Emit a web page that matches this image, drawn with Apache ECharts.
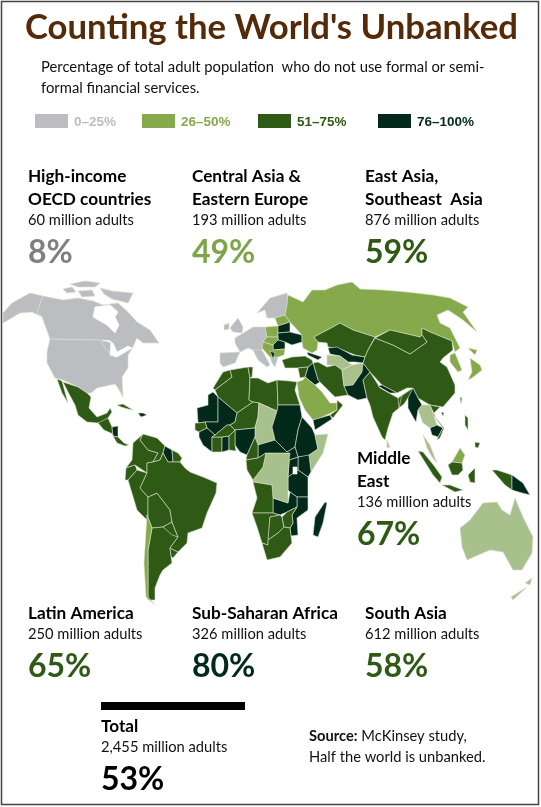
<!DOCTYPE html>
<html>
<head>
<meta charset="UTF-8">
<title>Counting the World's Unbanked</title>
<script src="https://cdn.jsdelivr.net/npm/echarts@6/dist/echarts.min.js"></script>
<style>
html,body{margin:0;padding:0;background:#fff}
#main{width:541px;height:807px}
</style>
</head>
<body>
<div id="main"></div>
<script>
// text values
var titleText = "Counting the World's Unbanked";
var subtitleLines = ['Percentage of total adult population  who do not use formal or semi-', 'formal financial services.'];
var legendLabels = ['0–25%', '26–50%', '51–75%', '76–100%'];
var legendColors = ['#bcbdc0', '#86a94b', '#2f5a15', '#04291c'];
var legendTextColors = ['#bcbdc0', '#86a94b', '#2f5a15', '#04291c'];

var groupNames = [['High-income', 'OECD countries'], ['Central Asia &', 'Eastern Europe'], ['East Asia,', 'Southeast  Asia'], ['Middle', 'East'], ['Latin America'], ['Sub-Saharan Africa'], ['South Asia'], ['Total']];
var groupAdults = ['60', '193', '876', '136', '250', '326', '612', '2,455'];
var groupPercent = [8, 49, 59, 67, 65, 80, 58, 53];
var groupColors = ['#808080', '#7fa54a', '#2f5a15', '#2f5a15', '#2f5a15', '#02291a', '#2f5a15', '#000'];

// map bands: 0 grey, 1 green, 2 pale green, 3 dark, 4 darkest, 5 water
var bandColors = ['#bcbdc0', '#86a94b', '#a8c08c', '#2f5a15', '#02291a', '#ffffff'];

// hand traced outlines, the world map file is not available offline
var outlines = {
  Alaska: [[[3,323],[3,313],[12,303],[30,293],[43,296],[37,312],[42,317],[32,312],[20,313]]],
  Canada: [[[43,296],[63,300],[78,298],[93,301],[103,305],[118,303],[128,312],[137,322],[150,330],[159,343],[143,343],[137,338],[133,347],[125,350],[115,357],[106,349],[100,340],[50,339],[42,317],[37,312]],
    [[63,289],[72,287],[76,292],[67,293]], [[78,291],[92,290],[95,296],[82,297]], [[70,284],[85,281],[100,283],[95,287],[78,287]], [[100,288],[112,291],[133,293],[128,303],[112,299],[104,294]]],
  USA: [[[50,339],[100,340],[106,349],[115,357],[125,350],[133,347],[128,355],[128,368],[122,377],[123,397],[118,388],[115,384],[97,388],[91,393],[87,393],[78,387],[63,380],[55,378],[47,363],[47,352]]],
  Mexico: [[[63,382],[78,387],[87,393],[91,397],[89,408],[97,417],[107,413],[110,408],[112,412],[108,418],[103,422],[98,423],[87,422],[78,415],[75,405],[68,392]], [[57,379],[62,381],[68,403],[62,393]]],
  Guatemala: [[[98,423],[108,418],[112,427],[113,434],[104,430]]],
  Nicaragua: [[[112,427],[118,426],[118,437],[113,436]]],
  Panama: [[[113,436],[118,437],[124,443],[129,445],[125,446],[117,443]]],
  Cuba: [[[117,405],[123,404],[133,410],[128,409],[121,407]]],
  Haiti: [[[138,413],[143,413],[147,415],[141,417]]],
  Colombia: [[[133,443],[143,434],[140,440],[148,450],[158,453],[153,462],[147,463],[147,473],[135,465],[126,468],[132,460]]],
  Venezuela: [[[143,434],[157,438],[165,446],[163,453],[160,460],[153,462],[158,453],[148,450],[140,440]]],
  Guyana: [[[165,446],[172,450],[173,462],[168,462],[163,453]]],
  Guiana: [[[172,450],[178,453],[182,458],[180,462],[173,462]]],
  Ecuador: [[[126,468],[135,465],[137,470],[128,480],[125,480]]],
  Peru: [[[128,480],[137,470],[147,473],[140,488],[148,497],[148,513],[147,520],[137,510]]],
  Bolivia: [[[148,497],[157,493],[170,510],[172,522],[163,527],[152,528],[148,518]]],
  Argentina: [[[152,528],[163,527],[178,537],[170,548],[172,563],[163,570],[160,575],[155,588],[155,600],[148,600],[148,550]]],
  Chile: [[[147,515],[152,528],[148,550],[148,597],[155,605],[146,597],[144,563]]],
  Paraguay: [[[163,527],[172,522],[178,537],[172,535]]],
  Uruguay: [[[170,548],[178,552],[173,558],[171,556]]],
  Brazil: [[[153,462],[160,460],[163,453],[168,462],[173,462],[180,462],[185,468],[190,472],[203,477],[217,483],[216,493],[207,513],[202,528],[188,533],[187,543],[178,552],[170,548],[178,537],[172,522],[170,510],[157,493],[148,497],[140,488],[147,473],[147,463]]],
  Morocco: [[[213,388],[223,372],[230,370],[232,377],[215,390]]],
  Algeria: [[[232,377],[230,370],[248,367],[250,378],[249,400],[253,402],[237,413],[218,397],[215,390]]],
  Tunisia: [[[248,367],[253,367],[252,377],[250,378]]],
  Libya: [[[250,378],[258,378],[268,383],[277,380],[278,405],[277,411],[259,403],[253,402],[249,400]]],
  Egypt: [[[277,380],[290,381],[297,382],[295,390],[300,405],[278,405]]],
  Mauritania: [[[208,395],[213,392],[218,397],[218,422],[205,422],[198,423],[197,408],[208,405]]],
  Mali: [[[218,397],[237,413],[235,422],[230,425],[227,425],[215,435],[207,428],[205,422],[218,422]]],
  Niger: [[[237,413],[253,402],[259,403],[258,417],[255,428],[235,430],[230,425],[235,422]]],
  Chad: [[[259,403],[277,411],[272,427],[275,440],[258,445],[255,437],[255,428],[258,417]]],
  Sudan: [[[278,405],[300,405],[302,417],[298,430],[295,447],[287,452],[275,440],[272,427],[277,411]]],
  Ethiopia: [[[302,417],[312,428],[315,435],[318,449],[308,456],[298,457],[295,447],[298,430]]],
  Somalia: [[[315,435],[328,434],[323,453],[311,472],[309,455],[318,449]]],
  Kenya: [[[298,457],[309,455],[311,472],[308,477],[298,470]]],
  Uganda: [[[289,460],[298,457],[298,470],[288,477]]],
  Tanzania: [[[288,477],[298,470],[308,477],[308,497],[297,497],[290,492],[288,490]]],
  Mozambique: [[[297,497],[308,497],[308,510],[297,518],[298,535],[291,536],[290,528],[293,523],[292,515],[297,507]]],
  Zambia: [[[273,498],[288,503],[290,492],[297,497],[297,507],[287,512],[280,515],[273,513]]],
  Congo: [[[266,453],[290,453],[288,475],[288,503],[273,498],[272,485],[253,482],[253,480],[263,467]]],
  CAR: [[[258,445],[275,440],[287,452],[295,447],[298,457],[289,460],[290,453],[266,453],[258,458]]],
  Nigeria: [[[235,430],[255,428],[255,437],[247,455],[240,452],[235,445]]],
  Cameroon: [[[255,437],[258,445],[258,458],[246,460],[247,455]]],
  Gabon: [[[246,460],[258,458],[266,453],[263,467],[253,480],[247,470]]],
  Angola: [[[253,482],[272,485],[273,498],[273,513],[252,513],[257,498]]],
  Namibia: [[[252,513],[273,513],[280,515],[270,517],[268,545],[262,543],[257,527]]],
  Botswana: [[[270,517],[280,515],[282,517],[284,527],[278,533],[268,540]]],
  Zimbabwe: [[[282,517],[287,512],[297,507],[292,515],[293,523],[290,528],[284,527]]],
  SouthAfrica: [[[268,545],[268,540],[278,533],[284,527],[290,528],[291,536],[292,543],[280,557],[267,560],[262,543]]],
  Senegal: [[[195,423],[198,423],[205,422],[207,428],[199,432],[195,430]]],
  Guinea: [[[199,432],[207,428],[215,435],[212,437],[212,452],[203,445],[199,437]]],
  IvoryCoast: [[[212,437],[222,437],[222,452],[212,452]]],
  Ghana: [[[222,437],[229,436],[229,450],[222,452]]],
  Burkina: [[[215,435],[227,425],[230,425],[235,430],[229,436],[222,437],[212,437]]],
  Benin: [[[229,436],[235,430],[235,445],[236,451],[229,450]]],
  Madagascar: [[[325,502],[327,503],[323,523],[318,537],[313,535],[315,517]]],
  Scandinavia: [[[257,313],[270,298],[287,293],[288,300],[287,305],[285,315],[275,318],[267,318],[265,310]]],
  UK: [[[230,328],[238,318],[243,327],[242,333],[233,332]], [[224,325],[229,323],[229,329],[224,330]]],
  WestEurope: [[[235,338],[240,335],[253,327],[265,327],[267,337],[263,342],[262,348],[262,353],[253,350],[248,348],[240,352],[235,343]]],
  Iberia: [[[220,353],[240,352],[235,363],[223,367],[220,363]]],
  Italy: [[[253,350],[262,350],[270,365],[267,367],[258,360]]],
  Greece: [[[270,357],[278,357],[275,367],[272,363]]],
  Poland: [[[265,327],[278,326],[278,337],[267,337]]],
  Baltics: [[[275,318],[285,315],[290,322],[278,326]]],
  Belarus: [[[278,326],[290,322],[290,332],[278,333]]],
  Ukraine: [[[278,333],[290,332],[302,335],[302,342],[292,345],[285,342],[278,340]]],
  Hungary: [[[267,337],[278,337],[278,340],[273,345],[263,342]]],
  Romania: [[[273,345],[278,340],[285,342],[285,349],[273,350]]],
  Balkans: [[[262,348],[263,342],[273,345],[273,350],[285,349],[284,355],[278,357],[270,357]]],
  Serbia: [[[270,351],[275,353],[273,359]]],
  Turkey: [[[282,360],[292,357],[305,356],[312,360],[313,363],[308,367],[298,368],[285,368]]],
  Russia: [[[288,295],[303,302],[312,290],[325,290],[337,285],[352,282],[360,289],[383,290],[407,292],[433,295],[450,298],[468,307],[463,312],[477,332],[463,320],[448,310],[437,315],[440,323],[450,328],[460,348],[455,352],[452,341],[430,332],[422,328],[422,335],[420,337],[390,330],[375,337],[353,330],[340,323],[333,327],[314,337],[318,342],[317,350],[312,353],[303,348],[302,342],[302,335],[290,322],[285,315],[287,305]]],
  Kazakhstan: [[[314,337],[333,327],[340,323],[353,330],[375,337],[368,350],[365,357],[355,355],[340,349],[328,347],[327,343],[318,342]]],
  Uzbekistan: [[[328,348],[337,347],[352,355],[365,357],[363,363],[355,362],[348,362],[340,356],[330,354]]],
  Turkmenistan: [[[327,355],[340,356],[348,362],[352,365],[342,370],[335,365],[327,365]]],
  Caucasus: [[[307,352],[322,357],[318,360],[308,355]]],
  Iran: [[[313,363],[318,362],[327,367],[335,365],[342,370],[344,386],[348,395],[335,397],[325,387],[318,380]]],
  Afghanistan: [[[342,370],[352,365],[363,363],[362,372],[353,385],[344,386]]],
  Pakistan: [[[363,363],[370,372],[363,380],[367,398],[358,400],[348,395],[344,386],[353,385],[362,372]]],
  Iraq: [[[308,367],[313,363],[318,380],[320,382],[315,385],[305,377]]],
  Syria: [[[298,368],[308,367],[305,377],[300,378]]],
  Saudi: [[[297,382],[303,380],[305,377],[315,385],[322,392],[330,403],[337,403],[337,410],[320,418],[313,420],[305,410],[299,397]]],
  Yemen: [[[313,420],[330,415],[332,419],[315,430]]],
  Oman: [[[337,400],[343,405],[333,418],[330,415],[337,410]]],
  India: [[[363,380],[370,372],[377,383],[380,388],[398,398],[402,395],[399,408],[393,413],[388,428],[385,440],[382,437],[373,417],[370,405],[367,398]], [[398,398],[413,388],[413,392],[408,398],[404,404],[399,408]]],
  China: [[[375,338],[393,345],[410,354],[427,342],[422,335],[422,328],[430,332],[452,341],[453,350],[443,358],[440,362],[447,367],[455,385],[455,393],[443,407],[430,405],[418,398],[413,388],[407,388],[397,393],[382,385],[370,372],[363,363],[365,357],[368,350]]],
  Mongolia: [[[375,338],[390,330],[420,337],[422,335],[427,342],[410,354],[393,345]]],
  Nepal: [[[382,385],[397,393],[390,393],[378,386]]],
  Myanmar: [[[408,398],[413,388],[418,398],[422,405],[418,410],[416,422],[413,417],[408,408]]],
  SriLanka: [[[387,440],[390,447],[387,448]]],
  Korea: [[[450,355],[455,353],[462,370],[458,372],[450,362]]],
  Japan: [[[468,348],[477,350],[475,355]], [[470,358],[480,365],[482,370],[472,378],[468,380],[472,372]]],
  Thailand: [[[418,410],[422,405],[430,405],[433,413],[437,425],[430,428],[423,423]], [[423,435],[430,445],[437,463],[432,457],[427,448]]],
  Cambodia: [[[430,428],[437,425],[443,428],[438,437],[432,435]]],
  Vietnam: [[[430,405],[440,407],[433,414],[444,428],[440,438],[437,440],[438,437],[443,428],[437,420]]],
  Hainan: [[[441,412],[444,413],[443,416]]],
  Taiwan: [[[460,397],[462,398],[461,404]]],
  Philippines: [[[465,415],[468,418],[468,430],[465,425]], [[475,442],[480,443],[478,448],[475,447]]],
  Malaysia: [[[452,462],[460,448],[465,455],[462,463]]],
  Indonesia: [[[448,465],[452,462],[462,463],[463,470],[458,475],[452,475]], [[418,451],[423,452],[435,467],[442,477],[440,483],[433,475]], [[442,485],[450,485],[463,490],[455,492]], [[468,475],[475,468],[475,475],[475,483],[470,482]], [[492,470],[497,470],[512,475],[512,490],[505,485],[498,477]]],
  PNG: [[[512,475],[523,483],[530,495],[522,493],[512,490]]],
  Australia: [[[460,528],[470,520],[483,503],[497,502],[502,510],[510,515],[515,498],[523,517],[533,537],[532,553],[522,570],[513,570],[503,552],[490,550],[467,560],[462,547]]],
  NewZealand: [[[532,578],[530,585],[525,583]], [[527,587],[513,600],[511,597]]],
  HudsonBay: [[[95,307],[110,305],[118,312],[115,317],[119,325],[115,333],[107,325],[93,317]]],
  GreatLakes: [[[102,340],[111,341],[110,355],[117,357],[132,348],[128,346],[117,352],[113,343]]],
  LakeVictoria: [[[293,467],[297,467],[297,474],[293,474]]]
};

var regionBands = {
  Alaska:0, Canada:0, USA:0, UK:0, Scandinavia:0, WestEurope:0, Iberia:0, Italy:0, Greece:0,
  Poland:1, Baltics:1, Hungary:1, Balkans:1, Russia:1, Saudi:1, Chile:1, Korea:1, Japan:1, Malaysia:1,
  Chad:2, Congo:2, Somalia:2, Turkmenistan:2, Afghanistan:2, Thailand:2, SriLanka:2, Australia:2, NewZealand:2,
  Mexico:3, Guatemala:3, Panama:3, Cuba:3, Colombia:3, Venezuela:3, Guiana:3, Ecuador:3, Peru:3, Bolivia:3, Argentina:3, Paraguay:3, Uruguay:3, Brazil:3,
  Morocco:3, Algeria:3, Tunisia:3, Libya:3, Egypt:3, Niger:3, Cameroon:3, Gabon:3, Angola:3, Namibia:3, Botswana:3, Zimbabwe:3, SouthAfrica:3, Senegal:3, IvoryCoast:3, Burkina:3, Benin:3,
  Turkey:3, Kazakhstan:3, Iran:3, Syria:3, Oman:3, India:3, China:3, Mongolia:3, Vietnam:3, Philippines:3, Indonesia:3, Taiwan:3,
  Nicaragua:4, Haiti:4, Guyana:4, Mauritania:4, Mali:4, Sudan:4, Ethiopia:4, Kenya:4, Uganda:4, Tanzania:4, Mozambique:4, Zambia:4, CAR:4, Nigeria:4, Guinea:4, Ghana:4, Madagascar:4,
  Belarus:4, Ukraine:4, Romania:4, Serbia:4, Uzbekistan:4, Caucasus:4, Pakistan:4, Iraq:4, Yemen:4, Nepal:4, Myanmar:4, Cambodia:4, Hainan:4, PNG:4,
  HudsonBay:5, GreatLakes:5, LakeVictoria:5
};

var regionNames = Object.keys(outlines);

var worldGeo = {
  type: 'FeatureCollection',
  features: regionNames.map(function (name) {
    return {
      type: 'Feature',
      properties: { name: name },
      geometry: {
        type: 'MultiPolygon',
        coordinates: outlines[name].map(function (ring) {
          var r = ring.map(function (p) { return [p[0], 807 - p[1]]; });
          r.push(r[0]);
          return [r];
        })
      }
    };
  })
};
echarts.registerMap('unbanked', worldGeo);

var font = 'Lato';
var gfx = [];

// frame
gfx.push({ type: 'rect', shape: { x: 1.5, y: 1.5, width: 537, height: 803 }, style: { fill: 'none', stroke: '#444', lineWidth: 1.5 }, z: 10 });

function addText(x, y, text, size, color, weight, fam) {
  gfx.push({ type: 'text', x: x, y: y, z: 11, style: { text: text, font: (weight || 'normal') + ' ' + size + 'px ' + (fam || font), fill: color || '#111', textVerticalAlign: 'middle' } });
}

addText(25, 28, titleText, 34.7, '#552a08', 'bold');
addText(41, 67, subtitleLines[0], 14.8, '#111');
addText(41, 88, subtitleLines[1], 14.8, '#111');

var legendX = [35, 142, 258, 378];
legendLabels.forEach(function (label, i) {
  gfx.push({ type: 'rect', z: 11, shape: { x: legendX[i], y: 114, width: 33, height: 14 }, style: { fill: legendColors[i] } });
  addText(legendX[i] + 39, 122, label, 13.5, legendTextColors[i], 'bold', '"Liberation Sans"');
});

var groupX = [28, 192, 365, 357, 28, 192, 365, 101];
var groupY = [176, 176, 176, 458, 613, 613, 613, 726];
groupNames.forEach(function (lines, i) {
  var y = groupY[i];
  lines.forEach(function (line) {
    addText(groupX[i], y, line, 17.2, '#000', 'bold');
    y += 23;
  });
  y -= 2;
  addText(groupX[i], y, groupAdults[i] + ' million adults', 14.7, '#111');
  addText(groupX[i], y + 33, groupPercent[i] + '%', 32, groupColors[i], 'bold');
});

// rule over the total
gfx.push({ type: 'rect', z: 11, shape: { x: 101, y: 702, width: 144, height: 8 }, style: { fill: '#000' } });

gfx.push({ type: 'text', x: 309, y: 736, z: 11, style: { text: '{b|Source:} McKinsey study,', rich: { b: { fontFamily: font, fontWeight: 'bold', fontSize: 14.7, fill: '#111' } }, font: '14.7px ' + font, fill: '#111', textVerticalAlign: 'middle' } });
addText(309, 757, 'Half the world is unbanked.', 14.7, '#111');

var chart = echarts.init(document.getElementById('main'), null, { renderer: 'canvas' });
chart.setOption({
  animation: false,
  backgroundColor: '#fff',
  series: [{
    type: 'map',
    map: 'unbanked',
    left: 0,
    top: 0,
    width: 541,
    height: 807,
    aspectScale: 1,
    boundingCoords: [[0, 807], [541, 0]],
    roam: false,
    silent: true,
    label: { show: false },
    itemStyle: { borderColor: '#d6e0cb', borderWidth: 0.6 },
    data: regionNames.map(function (name) {
      var color = bandColors[regionBands[name]];
      return { name: name, value: regionBands[name], itemStyle: { areaColor: color, color: color, borderColor: regionBands[name] === 5 ? '#fff' : '#d6e0cb' } };
    })
  }],
  graphic: { elements: gfx }
});
</script>
</body>
</html>
